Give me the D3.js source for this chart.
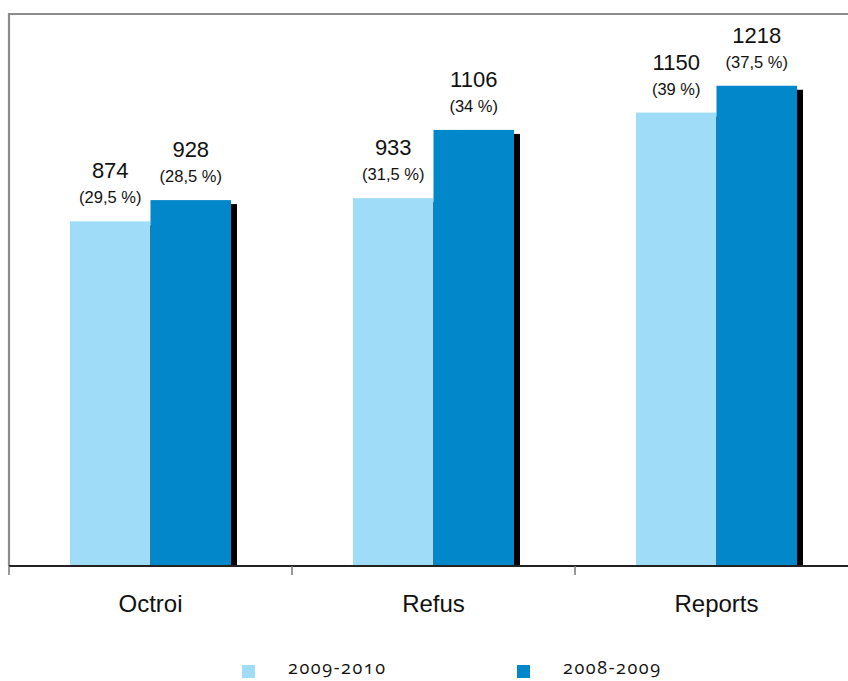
<!DOCTYPE html>
<html>
<head>
<meta charset="utf-8">
<script src="https://cdn.jsdelivr.net/npm/d3@7/dist/d3.min.js"></script>
<style>
  html, body { margin: 0; padding: 0; background: #fff; }
  svg { display: block; }
</style>
</head>
<body>
<svg id="chart" width="848" height="681"></svg>
<script>
// Décisions par type, deux exercices
const categories = ["Octroi", "Refus", "Reports"];
const seriesNames = ["2009-2010", "2008-2009"];
const values2009_2010 = [874, 933, 1150];
const values2008_2009 = [928, 1106, 1218];
const shares2009_2010 = ["(29,5 %)", "(31,5 %)", "(39 %)"];
const shares2008_2009 = ["(28,5 %)", "(34 %)", "(37,5 %)"];
const colors = ["#9edcf7", "#0288ca"];

const series = [
  { name: seriesNames[0], values: values2009_2010, shares: shares2009_2010, color: colors[0] },
  { name: seriesNames[1], values: values2008_2009, shares: shares2008_2009, color: colors[1] }
];

const svg = d3.select("#chart");
const plotLeft = 9, plotTop = 14, plotRight = 858, plotBottom = 566;

const x = d3.scaleBand().domain(categories).range([plotLeft, plotRight]).padding(0);
const xInner = d3.scaleBand().domain(seriesNames)
  .range([x.bandwidth() * 0.2155, x.bandwidth() * 0.7845]).padding(0);
const y = d3.scaleLinear().domain([0, 1400]).range([plotBottom, plotTop]);

// Cadre du graphique (haut et gauche)
svg.append("path")
  .attr("d", `M${plotLeft},${plotBottom} V${plotTop} H848`)
  .attr("fill", "none")
  .attr("stroke", "#8c8c8c")
  .attr("stroke-width", 2.2);

// Barres avec ombre portée
series.forEach(s => {
  const g = svg.append("g");
  categories.forEach((c, i) => {
    const bx = x(c) + xInner(s.name);
    const w = xInner.bandwidth();
    g.append("rect")
      .attr("x", bx + 6).attr("y", y(s.values[i]) + 4)
      .attr("width", w).attr("height", plotBottom - y(s.values[i]) - 4)
      .attr("fill", "#000");
    g.append("rect")
      .attr("x", bx).attr("y", y(s.values[i]))
      .attr("width", w).attr("height", plotBottom - y(s.values[i]))
      .attr("fill", s.color);
    g.append("text")
      .attr("x", bx + w / 2).attr("y", y(s.values[i]) - 43)
      .attr("text-anchor", "middle")
      .attr("font-family", "Liberation Sans, Arial, sans-serif")
      .attr("font-size", 22).attr("fill", "#111")
      .text(s.values[i]);
    g.append("text")
      .attr("x", bx + w / 2).attr("y", y(s.values[i]) - 18)
      .attr("text-anchor", "middle")
      .attr("font-family", "Liberation Sans, Arial, sans-serif")
      .attr("font-size", 16.5).attr("fill", "#111")
      .text(s.shares[i]);
  });
});

// Axe des catégories
const xAxis = svg.append("g").attr("transform", `translate(0,${plotBottom})`)
  .call(d3.axisBottom(x).tickSize(0).tickPadding(29));
xAxis.select(".domain").remove();
xAxis.selectAll("text")
  .attr("font-family", "Liberation Sans, Arial, sans-serif")
  .attr("font-size", 24).attr("fill", "#111");

svg.append("line")
  .attr("x1", plotLeft).attr("x2", 848).attr("y1", plotBottom).attr("y2", plotBottom)
  .attr("stroke", "#222").attr("stroke-width", 2);

svg.append("g").selectAll("line")
  .data(categories)
  .join("line")
  .attr("x1", d => x(d)).attr("x2", d => x(d))
  .attr("y1", plotBottom).attr("y2", plotBottom + 9)
  .attr("stroke", "#777").attr("stroke-width", 1.5);

// Légende
const legendX = [241, 516];
const legend = svg.append("g");
series.forEach((s, i) => {
  legend.append("rect")
    .attr("x", legendX[i] + 1).attr("y", 665)
    .attr("width", 13).attr("height", 13)
    .attr("fill", s.color);
  legend.append("text")
    .attr("x", legendX[i] + 47).attr("y", 674)
    .attr("font-family", "'Open Sans', Lato, sans-serif")
    .attr("font-size", 18).attr("fill", "#111")
    .attr("letter-spacing", 1.6)
    .style("font-feature-settings", "'onum' 1")
    .text(s.name);
});
</script>
</body>
</html>
